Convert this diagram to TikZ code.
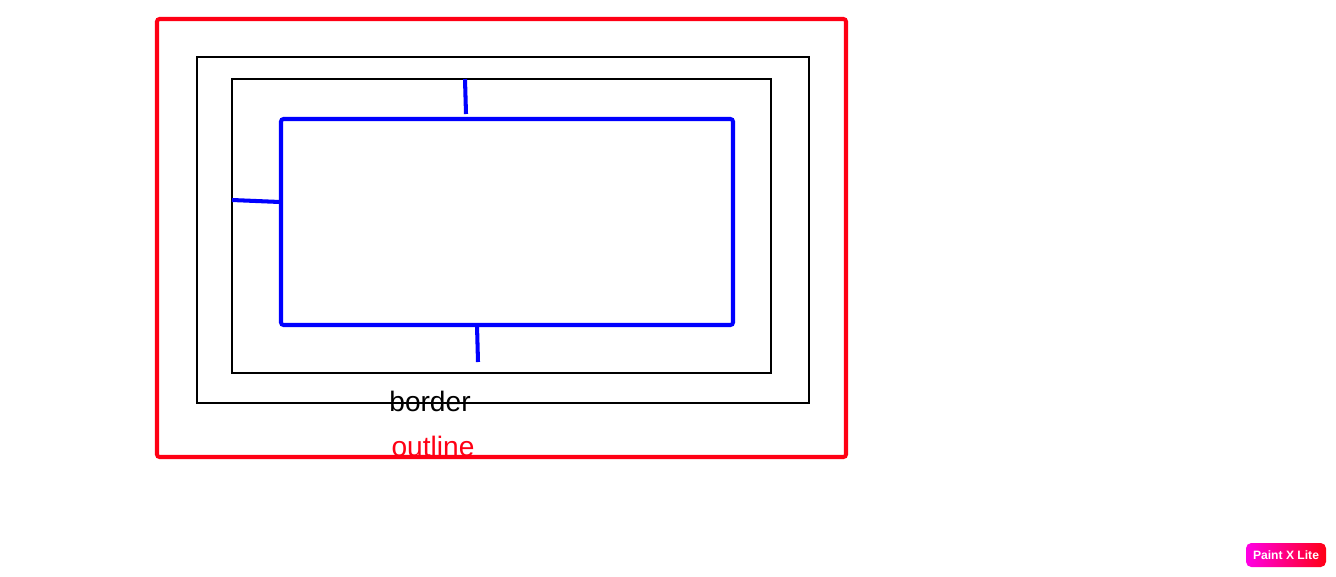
\documentclass[tikz,border=0pt]{standalone}
\usepackage{fontspec}
\setmainfont{Liberation Sans}
\definecolor{azul}{RGB}{0,0,255}
\definecolor{rojo}{RGB}{255,0,20}
\tikzset{
  caja/.style={draw, line width=0.85pt, inner sep=0pt},
  marca/.style={azul, line width=2.3pt},
  etiqueta/.style={anchor=base, inner sep=0pt, font=\fontsize{16}{17}\selectfont}
}
\begin{document}
\begin{tikzpicture}[x=0.02cm, y=-0.02cm]
            \useasboundingbox (0,0) rectangle (1336,576);

            % Contorno exterior (outline)
            \draw[rojo, line width=2.3pt, rounded corners=1.5pt] (157,19) rectangle (846,457);

            % Borde (border) y caja interior
            \draw[caja] (197,57) rectangle (809,403);
            \draw[caja] (232,79) rectangle (771,373);

            % Contenido
            \draw[marca, rounded corners=1.5pt] (281,119) rectangle (733,325);
            \coordinate (arriba) at (465,79);
            \coordinate (izq) at (232,200);
            \coordinate (abajo) at (478,362);
            \draw[marca] (arriba) -- (466,114);
            \draw[marca] (izq) -- (280,202);
            \draw[marca] (477,325) -- (abajo);

            % Etiquetas
            \node[etiqueta] (borde) at (430,411) {border};
            \node[etiqueta, text=rojo] (contorno) at (433,456) {outline};

            % Marca de agua
            \node[rounded corners=3pt, left color=magenta!90!red, right color=rojo,
                  minimum width=80*0.02cm, minimum height=24*0.02cm, inner sep=0pt,
                  text=white, font=\bfseries\fontsize{6.9}{7}\selectfont] (marcaagua) at (1286,555) {Paint X Lite};
        \end{tikzpicture}
\end{document}
